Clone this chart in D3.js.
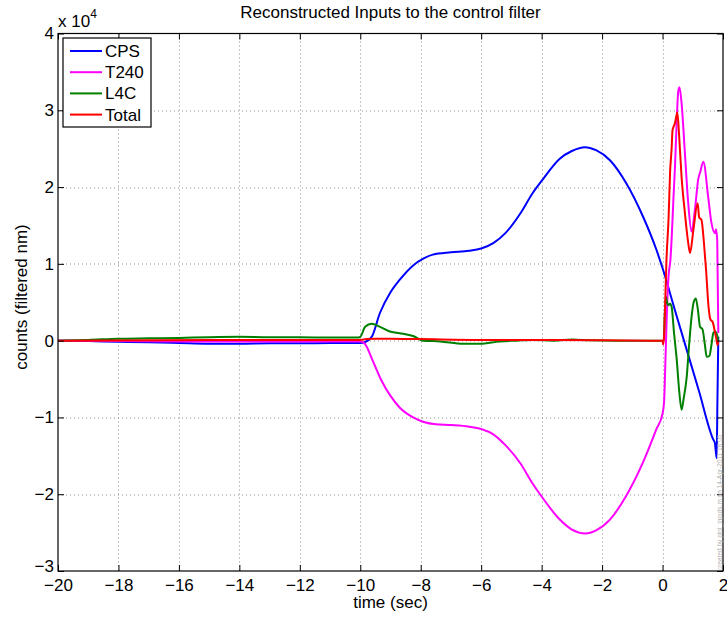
<!DOCTYPE html>
<html>
<head>
<meta charset="utf-8">
<script src="https://cdn.jsdelivr.net/npm/d3@7"></script>
<style>
  body { margin: 0; background: #fff; }
  text { font-family: "Liberation Sans", Arial, Helvetica, sans-serif; fill: #000; }
</style>
</head>
<body>
<svg id="chart" width="727" height="617"></svg>
<script>
// Axis ticks
const xTicks = [-20, -18, -16, -14, -12, -10, -8, -6, -4, -2, 0, 2];
const yTicks = [-30000, -20000, -10000, 0, 10000, 20000, 30000, 40000];

// CPS reconstructed input (counts)
const cpsTime = [-20, -19, -18, -17, -16, -15, -14, -13, -12, -11, -10.2, -10, -9.85, -9.62, -9.35, -9.0, -8.7, -8.25, -7.9, -7.6, -7.0, -6.4, -6.0, -5.6, -5.2, -4.7, -4.3, -4.0, -3.4, -3.0, -2.57, -2.2, -1.74, -1.2, -0.64, -0.2, 0.02, 0.4, 0.8, 1.2, 1.68, 1.73, 1.79, 1.815, 1.845];
const cpsCounts = [0, -50, -150, -200, -300, -400, -400, -350, -350, -300, -300, -300, -200, 500, 3600, 6300, 7900, 9800, 10700, 11200, 11500, 11700, 12000, 12700, 14000, 16600, 19200, 20800, 23700, 24700, 25200, 24800, 23500, 20500, 16100, 11800, 9200, 4100, -1200, -6500, -12900, -13300, -15300, -8000, 500];

// T240 reconstructed input (counts)
const t240Time = [-20, -18, -16, -14, -12, -10.2, -10, -9.85, -9.6, -9.3, -9.0, -8.7, -8.25, -7.9, -7.5, -7.0, -6.4, -6.0, -5.6, -5.2, -4.7, -4.3, -4.0, -3.4, -3.0, -2.55, -2.2, -1.74, -1.2, -0.64, -0.2, 0, 0.05, 0.1, 0.15, 0.2, 0.26, 0.31, 0.36, 0.41, 0.47, 0.52, 0.56, 0.63, 0.74, 0.85, 0.96, 1.07, 1.18, 1.25, 1.35, 1.51, 1.62, 1.73, 1.77, 1.81, 1.845];
const t240Counts = [0, -50, -100, -100, -100, -100, -100, -400, -2500, -5200, -7200, -8700, -10000, -10600, -10900, -11000, -11200, -11500, -12200, -13600, -16000, -18600, -20300, -23300, -24600, -25100, -24700, -23300, -20200, -15800, -11500, -9500, -8000, -2000, 4500, 8500, 10500, 14000, 18500, 22500, 28700, 32500, 33000, 30900, 24400, 17900, 14200, 17000, 21000, 22000, 23300, 18700, 15300, 14000, 14500, 13000, 1000];

// L4C reconstructed input (counts)
const l4cTime = [-20, -19, -18, -17, -16, -15, -14, -13, -12, -11, -10.1, -10, -9.84, -9.62, -9.35, -9.02, -8.58, -8.25, -7.92, -7.36, -6.59, -6.04, -5.38, -4.83, -4.28, -3.6, -3.0, -2.4, -1.5, -0.5, 0, 0.04, 0.07, 0.11, 0.15, 0.19, 0.25, 0.30, 0.38, 0.47, 0.55, 0.63, 0.70, 0.80, 0.88, 0.96, 1.03, 1.10, 1.17, 1.24, 1.32, 1.40, 1.46, 1.55, 1.62, 1.68, 1.74, 1.80, 1.845];
const l4cCounts = [0, 100, 250, 300, 350, 450, 500, 450, 450, 400, 400, 500, 1800, 2200, 1800, 1200, 900, 600, 0, -100, -400, -400, -100, 0, 100, 0, 150, 50, 0, 0, 0, 0, 3000, 5700, 5000, 4600, 4800, 4400, 1000, -2500, -6500, -9000, -7500, -4700, -500, 3100, 5000, 5500, 4000, 1800, 1500, -500, -2100, -2000, -500, 1000, 1200, 800, 0];

// Total input (counts)
const totalTime = [-20, -15, -10, -9.8, -9.5, -9, -8, -6, -4, -2, -0.05, 0, 0.02, 0.05, 0.08, 0.13, 0.2, 0.25, 0.30, 0.33, 0.41, 0.49, 0.55, 0.63, 0.74, 0.85, 0.91, 1.02, 1.16, 1.21, 1.29, 1.37, 1.44, 1.52, 1.58, 1.66, 1.72, 1.78, 1.82, 1.845];
const totalCounts = [0, 100, 100, 200, 250, 250, 200, 100, 100, 50, 0, 0, -500, 500, 4000, 10500, 16000, 22000, 25000, 27400, 28300, 29700, 26600, 21300, 16600, 12700, 11400, 14400, 17900, 16100, 15700, 12700, 9200, 4500, 2800, 2400, 1400, 200, -600, 0];

const seriesNames = ["CPS", "T240", "L4C", "Total"];
const seriesColors = ["#0000ff", "#ff00ff", "#008000", "#ff0000"];

const series = [
  { name: seriesNames[0], color: seriesColors[0], t: cpsTime, v: cpsCounts },
  { name: seriesNames[1], color: seriesColors[1], t: t240Time, v: t240Counts },
  { name: seriesNames[2], color: seriesColors[2], t: l4cTime, v: l4cCounts },
  { name: seriesNames[3], color: seriesColors[3], t: totalTime, v: totalCounts }
];

const W = 727, H = 617;
const margin = { left: 58, top: 33.5, right: 4, bottom: 46 };
const pw = W - margin.left - margin.right;
const ph = H - margin.top - margin.bottom;
const FS = 17;

const svg = d3.select("#chart");
const g = svg.append("g").attr("transform", `translate(${margin.left},${margin.top})`);

const x = d3.scaleLinear().domain([-20, 2]).range([0, pw]);
const y = d3.scaleLinear().domain([-30000, 40000]).range([ph, 0]);

// dotted grid
const grid = g.append("g").attr("stroke", "#8c8c8c").attr("stroke-width", 1).attr("stroke-dasharray", "1,3");
grid.selectAll(".gx").data(xTicks.slice(1, -1)).join("line")
  .attr("x1", d => Math.round(x(d)) + 0.5).attr("x2", d => Math.round(x(d)) + 0.5)
  .attr("y1", 0).attr("y2", ph);
grid.selectAll(".gy").data(yTicks.slice(1, -1)).join("line")
  .attr("y1", d => Math.round(y(d)) + 0.5).attr("y2", d => Math.round(y(d)) + 0.5)
  .attr("x1", 0).attr("x2", pw);

// data lines
g.append("clipPath").attr("id", "plotclip").append("rect").attr("width", pw).attr("height", ph);
const line = d3.line().x(d => x(d[0])).y(d => y(d[1])).curve(d3.curveMonotoneX);
const lines = g.append("g").attr("clip-path", "url(#plotclip)");
series.forEach(s => {
  lines.append("path")
    .datum(s.t.map((t, i) => [t, s.v[i]]))
    .attr("fill", "none")
    .attr("stroke", s.color)
    .attr("stroke-width", 2)
    .attr("stroke-linejoin", "round")
    .attr("d", line);
});

// axes: bottom/left labelled, ticks pointing inward on all four sides
const fmtY = d => String(d / 10000).replace("-", "\u2212");
const fmtX = d => String(d).replace("-", "\u2212");
const tickLen = 6;

const axB = g.append("g").attr("transform", `translate(0,${ph})`)
  .call(d3.axisBottom(x).tickValues(xTicks).tickSize(-tickLen).tickPadding(7.5).tickFormat(fmtX));
const axT = g.append("g")
  .call(d3.axisTop(x).tickValues(xTicks).tickSize(-tickLen).tickFormat(""));
const axL = g.append("g")
  .call(d3.axisLeft(y).tickValues(yTicks).tickSize(-tickLen).tickPadding(4).tickFormat(fmtY));
const axR = g.append("g").attr("transform", `translate(${pw},0)`)
  .call(d3.axisRight(y).tickValues(yTicks).tickSize(-tickLen).tickFormat(""));

[axB, axT, axL, axR].forEach(a => {
  a.select(".domain").remove();
  a.selectAll(".tick line").attr("stroke", "#000");
  a.selectAll("text").attr("font-size", FS).attr("font-family", "Liberation Sans, Arial, sans-serif");
});
// lift the lowest y label a little so it sits clear of the first x label
axL.selectAll(".tick").filter(d => d === yTicks[0]).select("text").attr("dy", "0.05em");

// axes box
g.append("rect").attr("x", 0).attr("y", 0).attr("width", pw).attr("height", ph)
  .attr("fill", "none").attr("stroke", "#000").attr("stroke-width", 1.2);

// exponent label
const expo = svg.append("text").attr("x", margin.left).attr("y", 27).attr("font-size", FS);
expo.append("tspan").text("x 10");
expo.append("tspan").attr("dy", -9).attr("font-size", 12).text("4");

// title and axis labels
svg.append("text").attr("x", margin.left + pw / 2).attr("y", 18)
  .attr("text-anchor", "middle").attr("font-size", FS)
  .text("Reconstructed Inputs to the control filter");
svg.append("text").attr("x", margin.left + pw / 2).attr("y", 608)
  .attr("text-anchor", "middle").attr("font-size", FS).text("time (sec)");
svg.append("text").attr("transform", `translate(27,297) rotate(-90)`)
  .attr("text-anchor", "middle").attr("font-size", FS).text("counts (filtered nm)");

// legend
const lg = svg.append("g").attr("transform", "translate(63,38)");
lg.append("rect").attr("width", 88).attr("height", 89)
  .attr("fill", "#fff").attr("stroke", "#000").attr("stroke-width", 1.2);
series.forEach((s, i) => {
  const yy = 13 + i * 21.2;
  lg.append("line").attr("x1", 7).attr("x2", 39).attr("y1", yy).attr("y2", yy)
    .attr("stroke", s.color).attr("stroke-width", 2);
  lg.append("text").attr("x", 42).attr("y", yy + 6).attr("font-size", FS).text(s.name);
});

// print stamp along the right edge
svg.append("text").attr("transform", "translate(722,570) rotate(-90)")
  .attr("font-size", 6.5).style("fill", "#b0b0b0")
  .text("created by plot_inputs.m on 14-Apr-2011 16:05");
</script>
</body>
</html>
